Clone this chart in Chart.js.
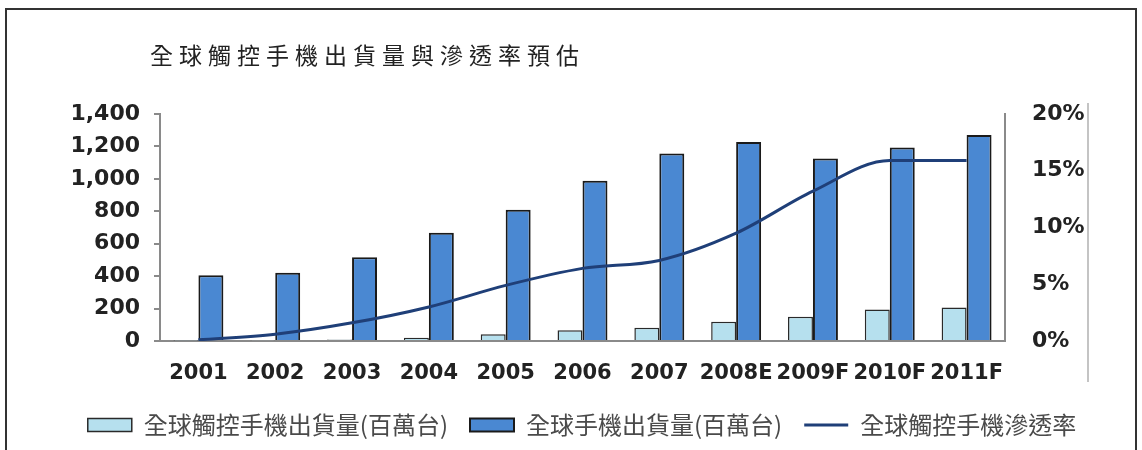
<!DOCTYPE html>
<html>
<head>
<meta charset="utf-8">
<script src="https://cdn.jsdelivr.net/npm/chart.js@4/dist/chart.umd.min.js"></script>
<style>
  html, body { margin: 0; padding: 0; background: #fff; }
  #wrap { position: relative; width: 1142px; height: 450px; overflow: hidden; }
  #frame { position: absolute; left: 5px; top: 8px; width: 1128px; height: 450px; border: 2px solid #333; pointer-events: none; }
  #edge { position: absolute; left: 1087px; top: 103px; width: 2px; height: 279px; background: #c4c4c4; }
  #title { position: absolute; left: 150px; top: 37px; font: 23px "Noto Sans CJK TC", sans-serif; letter-spacing: 6px; color: #222; white-space: nowrap; }
  #rateChart { position: absolute; left: 0; top: 0; }
</style>
</head>
<body>
<div id="wrap">
  <canvas id="rateChart" width="1142" height="450"></canvas>
  <div id="title">全球觸控手機出貨量與滲透率預估</div>
  <div id="edge"></div>
  <div id="frame"></div>
</div>
<script>
// Categories and series
const years = ['2001', '2002', '2003', '2004', '2005', '2006', '2007', '2008E', '2009F', '2010F', '2011F'];
const touchShipments = [3, 4, 10, 20, 41, 67, 82, 118, 149, 195, 207];       // 百萬台
const phoneShipments = [405, 421, 517, 667, 810, 988, 1156, 1228, 1125, 1193, 1271]; // 百萬台
const penetration = [0.1, 0.6, 1.6, 3.0, 4.9, 6.4, 7.1, 9.5, 13.2, 15.9, 15.9];      // %

const leftTicks = [0, 1400, 200];
const rightTicks = [0, 20, 5];

const labelFont = { family: 'DejaVu Sans', size: 21, weight: 'bold' };
const axisFont = { family: 'DejaVu Sans', size: 22, weight: 'bold' };
const legendFont = { family: '"Noto Sans CJK TC", sans-serif', size: 24 };

const ctx = document.getElementById('rateChart').getContext('2d');

new Chart(ctx, {
    data: {
        labels: years,
        datasets: [
            {
                type: 'bar',
                label: '全球觸控手機出貨量(百萬台)',
                data: touchShipments,
                backgroundColor: '#b6e0ee',
                borderColor: '#2a2a2a',
                borderWidth: 1.5,
                borderSkipped: 'bottom',
                categoryPercentage: 0.65,
                barPercentage: 1.0,
                pointStyle: 'rect',
                yAxisID: 'y',
                order: 1
            },
            {
                type: 'bar',
                label: '全球手機出貨量(百萬台)',
                data: phoneShipments,
                backgroundColor: '#4a88d2',
                borderColor: '#1a1a1a',
                borderWidth: 2,
                borderSkipped: 'bottom',
                categoryPercentage: 0.65,
                barPercentage: 1.0,
                pointStyle: 'rect',
                yAxisID: 'y',
                order: 1
            },
            {
                type: 'line',
                label: '全球觸控手機滲透率',
                data: penetration,
                borderColor: '#1f3f78',
                backgroundColor: '#1f3f78',
                borderWidth: 3,
                cubicInterpolationMode: 'monotone',
                pointRadius: 0,
                pointStyle: 'line',
                pointBorderWidth: 3,
                pointBorderColor: '#1f3f78',
                yAxisID: 'y1',
                order: 0
            }
        ]
    },
    options: {
        responsive: false,
        animation: false,
        layout: { padding: { top: 114, bottom: 3, left: 22, right: 0 } },
        plugins: {
            title: { display: false },
            tooltip: { enabled: false },
            legend: {
                display: true,
                position: 'bottom',
                labels: {
                    color: '#4a4a4a',
                    font: legendFont,
                    usePointStyle: true,
                    pointStyleWidth: 44,
                    boxHeight: 13,
                    padding: 22,
                    sort: (a, b) => a.datasetIndex - b.datasetIndex
                }
            }
        },
        scales: {
            x: {
                offset: true,
                grid: { display: false, drawTicks: false },
                border: { display: true, color: '#8a8a8a', width: 2 },
                ticks: {
                    color: '#222',
                    font: labelFont,
                    padding: 20,
                    autoSkip: false,
                    maxRotation: 0,
                    minRotation: 0
                },
                afterFit: scale => { scale.height = 50; }
            },
            y: {
                position: 'left',
                min: leftTicks[0],
                max: leftTicks[1],
                grid: { drawOnChartArea: false, tickLength: 6, color: '#8a8a8a', lineWidth: 2 },
                border: { display: true, color: '#8a8a8a', width: 2 },
                ticks: {
                    stepSize: leftTicks[2],
                    color: '#222',
                    font: axisFont,
                    padding: 14,
                    callback: value => value.toLocaleString('en-US')
                },
                afterFit: scale => { scale.width = 138; }
            },
            y1: {
                position: 'right',
                min: rightTicks[0],
                max: rightTicks[1],
                grid: { drawOnChartArea: false, drawTicks: false },
                border: { display: true, color: '#8a8a8a', width: 2 },
                ticks: {
                    stepSize: rightTicks[2],
                    color: '#222',
                    font: axisFont,
                    padding: 27,
                    callback: value => value + '%'
                },
                afterFit: scale => { scale.width = 137; }
            }
        }
    }
});
</script>
</body>
</html>
